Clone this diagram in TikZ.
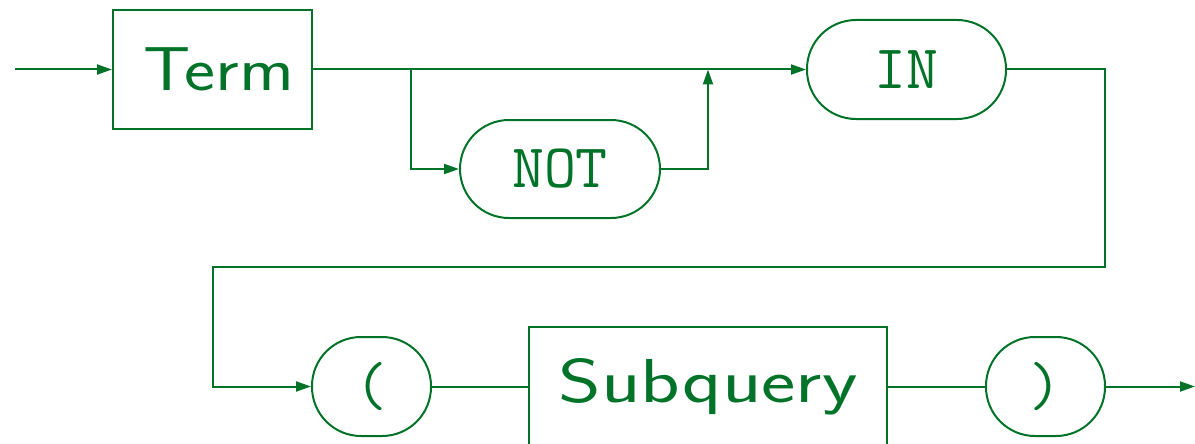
\documentclass[tikz,border=0pt]{standalone}
\usepackage{fontspec}
\usetikzlibrary{arrows.meta}
\newfontfamily\sfwide{Latin Modern Sans}[FakeStretch=1.19]
\newfontfamily\sfwider{Latin Modern Sans}[FakeStretch=1.32]
\definecolor{dg}{RGB}{0,115,40}
\begin{document}
\begin{tikzpicture}[x=1pt,y=-1pt,
  conn/.style={draw=dg,line width=2pt},
  arr/.style={conn,-{Triangle[length=15pt,width=10pt]}},
  ntbox/.style={draw=dg,line width=2pt,rectangle,inner sep=0pt,text=dg,font=\fontsize{62}{62}\sfwide},
  tmbox/.style={draw=dg,line width=2pt,rectangle,rounded corners=49pt,inner sep=0pt,text=dg,font=\fontsize{62}{62}\ttfamily}]
\useasboundingbox (0,0) rectangle (1195,444);
\node[ntbox,minimum width=199pt,minimum height=119pt] (term) at (212.5,69.5) {\hspace*{12pt}Term};
\node[tmbox,minimum width=200pt,minimum height=98pt] (not) at (560,169) {NOT};
\node[tmbox,minimum width=199pt,minimum height=99pt] (in) at (906.5,69.5) {IN};
\node[tmbox,minimum width=119pt,minimum height=99pt] (lp) at (371.5,386.5) {(};
\node[ntbox,font=\fontsize{62}{62}\sfwider,minimum width=358pt,minimum height=119pt] (sq) at (708,386.5) {Subquery};
\node[tmbox,minimum width=119pt,minimum height=99pt] (rp) at (1045.5,386.5) {)};
\coordinate (start) at (15,69.5);
\coordinate (b1) at (411,69.5);
\coordinate (j1) at (708,69.5);
\coordinate (r2) at (1105,267);
\coordinate (l1) at (213,267);
\coordinate (end) at (1195,386.5);
\draw[arr] (start) -- (term.west);
\draw[arr] (term.east) -- (in.west);
\draw[arr] (b1) |- (not.west);
\draw[arr] (not.east) -| (j1);
\draw[arr] (in.east) -| (r2) -- (l1) |- (lp.west);
\draw[conn] (lp.east) -- (sq.west);
\draw[conn] (sq.east) -- (rp.west);
\draw[arr] (rp.east) -- (end);
\end{tikzpicture}
\end{document}
